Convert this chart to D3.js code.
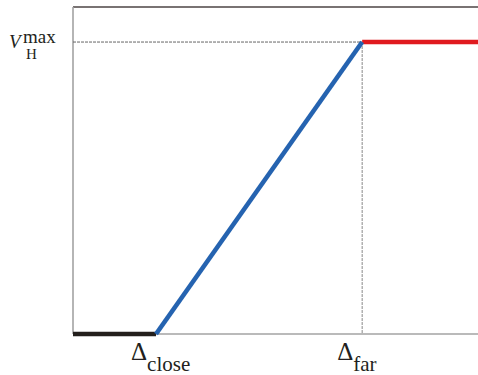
<!DOCTYPE html>
<html><head><meta charset="utf-8">
<script src="https://cdn.jsdelivr.net/npm/d3@7"></script>
<style>html,body{margin:0;padding:0;background:#fff;}svg{display:block;}</style>
</head><body>
<svg id="c" width="478" height="375"></svg>
<script>
// data
const xTicks = [0.205, 0.714];            // Δclose, Δfar
const tickNames = ["close", "far"];
const yMax = 1;                           // V_H^max
const segBelow = [[0, 0], [0.205, 0]];
const segRamp = [[0.205, 0], [0.714, 1]];
const segAbove = [[0.714, 1], [1, 1]];

const svg = d3.select("#c");
const x = d3.scaleLinear().domain([0, 1]).range([73, 478]);
const y = d3.scaleLinear().domain([0, 1.12]).range([334, 7]);
const FONT = "'Liberation Serif'";

// frame
svg.append("line").attr("x1", x(0)).attr("x2", x(1)).attr("y1", y(1.12)).attr("y2", y(1.12))
  .attr("stroke", "#4d4545").attr("stroke-width", 1.6);
svg.append("line").attr("x1", x(0)).attr("x2", x(0)).attr("y1", y(1.12)).attr("y2", y(0))
  .attr("stroke", "#a3a3a3").attr("stroke-width", 1.6);
svg.append("line").attr("x1", x(0)).attr("x2", x(1)).attr("y1", y(0)).attr("y2", y(0))
  .attr("stroke", "#a3a3a3").attr("stroke-width", 1.6);

// guide lines
svg.append("line").attr("x1", x(0)).attr("x2", x(xTicks[1])).attr("y1", y(yMax)).attr("y2", y(yMax))
  .attr("stroke", "#666").attr("stroke-width", 1).attr("stroke-dasharray", "3,1");
svg.append("line").attr("x1", x(xTicks[1])).attr("x2", x(xTicks[1])).attr("y1", y(yMax)).attr("y2", y(0))
  .attr("stroke", "#888").attr("stroke-width", 1).attr("stroke-dasharray", "3,1");

const line = d3.line().x(d => x(d[0])).y(d => y(d[1]));
svg.append("path").attr("d", line(segBelow)).attr("stroke", "#231f1c").attr("stroke-width", 4.6).attr("fill", "none");
svg.append("path").attr("d", line(segAbove)).attr("stroke", "#e01a1f").attr("stroke-width", 4.6).attr("fill", "none");
svg.append("path").attr("d", line(segRamp)).attr("stroke", "#2563b0").attr("stroke-width", 4.6).attr("fill", "none");

// x labels
xTicks.forEach((t, i) => {
  const g = svg.append("text").attr("x", x(t) - 25).attr("y", 359.5)
    .style("font-family", FONT).attr("fill", "#231f20");
  g.append("tspan").style("font-size", "25px").text("Δ");
  g.append("tspan").style("font-size", "21px").attr("dy", 11).text(tickNames[i]);
});

// y label
const yl = svg.append("text").attr("x", 9).attr("y", y(yMax) + 6)
  .style("font-family", FONT).attr("fill", "#231f20");
yl.append("tspan").style("font-style", "italic").style("font-size", "19px").text("V");
yl.append("tspan").attr("x", 23).attr("dy", -5).style("font-size", "19px").text("max");
yl.append("tspan").attr("x", 26).attr("dy", 16).style("font-size", "15px").text("H");
</script>
</body></html>
